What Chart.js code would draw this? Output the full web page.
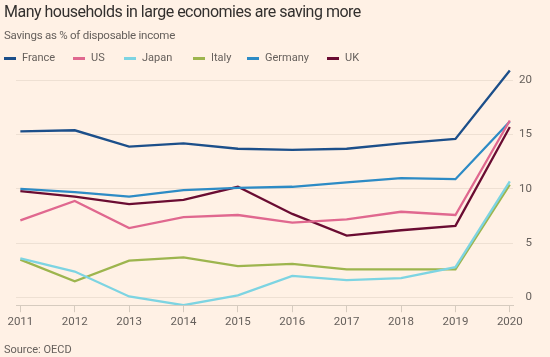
<!DOCTYPE html>
<html>
<head>
<meta charset="utf-8">
<script src="https://cdn.jsdelivr.net/npm/chart.js@4"></script>
<style>
  html, body { margin:0; padding:0; background:#fff1e5; }
  body { width:550px; height:357px; position:relative; overflow:hidden; font-family: Roboto, "Open Sans", sans-serif; }
  #title { position:absolute; left:4px; top:2px; font-size:16px; letter-spacing:-0.5px; color:#33302e; white-space:nowrap; }
  #subtitle { position:absolute; left:4px; top:28px; font-size:11.5px; letter-spacing:-0.25px; color:#66605c; white-space:nowrap; }
  #legend { position:absolute; left:0; top:50px; height:16px; width:550px; }
  .li { position:absolute; top:0; height:16px; font-size:11px; color:#66605c; white-space:nowrap; line-height:16px; }
  .li span.sw { position:absolute; left:0; top:7px; width:12px; height:2.5px; }
  .li span.tx { position:absolute; left:18px; top:0; }
  #source { position:absolute; left:4px; top:343px; font-size:11px; color:#66605c; white-space:nowrap; }
  #wrap { position:absolute; left:0; top:0; width:550px; height:357px; }
</style>
</head>
<body>
<div id="wrap"><canvas id="c" width="550" height="357"></canvas></div>
<div id="title">Many households in large economies are saving more</div>
<div id="subtitle">Savings as % of disposable income</div>
<div id="legend"></div>
<div id="source">Source: OECD</div>
<script>
// ---- data ----
const years   = [2011, 2012, 2013, 2014, 2015, 2016, 2017, 2018, 2019, 2020];
const france  = [15.3, 15.4, 13.9, 14.2, 13.7, 13.6, 13.7, 14.2, 14.6, 20.9];
const us      = [7.1, 8.9, 6.4, 7.4, 7.6, 6.9, 7.2, 7.9, 7.6, 16.3];
const japan   = [3.6, 2.4, 0.1, -0.7, 0.2, 2.0, 1.6, 1.8, 2.8, 10.7];
const italy   = [3.5, 1.5, 3.4, 3.7, 2.9, 3.1, 2.6, 2.6, 2.6, 10.4];
const germany = [10.0, 9.7, 9.3, 9.9, 10.1, 10.2, 10.6, 11.0, 10.9, 16.2];
const uk      = [9.8, 9.3, 8.6, 9.0, 10.2, 7.7, 5.7, 6.2, 6.6, 15.7];
const yTicks  = [0, 5, 10, 15, 20];

const seriesNames  = ["France", "US", "Japan", "Italy", "Germany", "UK"];
const seriesValues = [france, us, japan, italy, germany, uk];
const seriesColors = ["#1c4f8a", "#e0688f", "#7dd4e2", "#9db54e", "#2d8bc5", "#6a0c32"];
const legendX      = [4, 73, 124, 193, 247, 327];

// ---- legend (HTML) ----
const leg = document.getElementById('legend');
seriesNames.forEach((n, i) => {
  const d = document.createElement('div');
  d.className = 'li';
  d.style.left = legendX[i] + 'px';
  d.innerHTML = '<span class="sw" style="background:' + seriesColors[i] + '"></span><span class="tx">' + n + '</span>';
  leg.appendChild(d);
});

// ---- chart ----
const datasets = seriesNames.map((n, i) => ({
  label: n,
  data: years.map((y, j) => ({ x: y, y: seriesValues[i][j] })),
  borderColor: seriesColors[i],
  backgroundColor: seriesColors[i],
  borderWidth: 2.3,
  pointRadius: 0,
  tension: 0,
  fill: false
}));

new Chart(document.getElementById('c'), {
  type: 'line',
  data: { datasets },
  options: {
    responsive: false,
    animation: false,
    devicePixelRatio: 1,
    layout: { padding: { top: 64, left: 16, right: 18, bottom: 25 } },
    plugins: { legend: { display: false }, tooltip: { enabled: false }, title: { display: false } },
    scales: {
      x: {
        type: 'linear',
        min: 2010.92,
        max: 2020.06,
        afterBuildTicks: s => { s.ticks = years.map(v => ({ value: v })); },
        ticks: {
          callback: v => String(v),
          color: '#66605c',
          font: { family: 'Roboto', size: 11.5 },
          padding: 3,
          maxRotation: 0,
          autoSkip: false
        },
        grid: { drawOnChartArea: false, drawTicks: true, tickLength: 7, color: '#d6cbbf', lineWidth: 1 },
        border: { display: true, color: '#d6cbbf', width: 1 }
      },
      y: {
        position: 'right',
        min: -0.7,
        max: 21.5,
        afterBuildTicks: s => { s.ticks = yTicks.map(v => ({ value: v })); },
        ticks: {
          color: '#66605c',
          font: { family: 'Roboto', size: 11.5 },
          padding: 3,
          crossAlign: 'far'
        },
        grid: { drawTicks: false, color: '#eee0d3', lineWidth: 1 },
        border: { display: false }
      }
    }
  }
});
</script>
</body>
</html>
